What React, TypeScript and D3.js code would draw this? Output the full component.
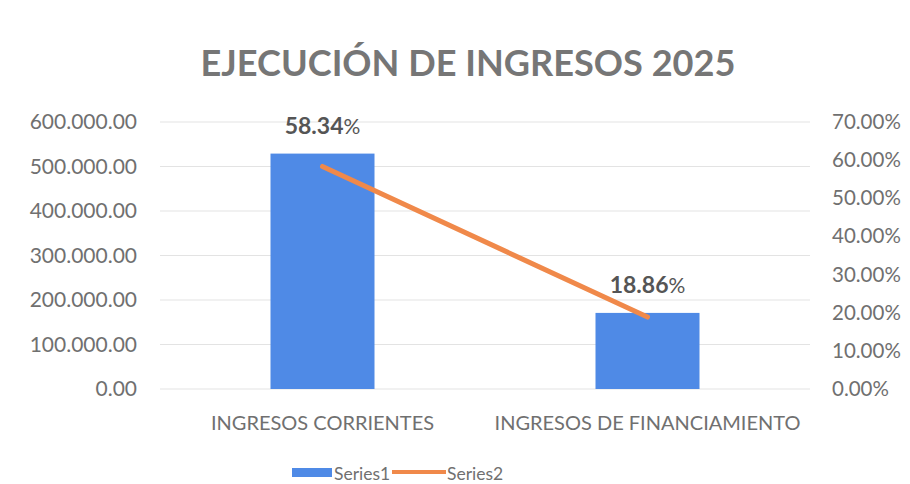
import React from "react";
import * as d3 from "d3";

const categories = ["INGRESOS CORRIENTES", "INGRESOS DE FINANCIAMIENTO"];
const series1 = [529000, 171000];
const series2 = [0.5834, 0.1886];
const leftTicks = [0, 100000, 200000, 300000, 400000, 500000, 600000];
const rightTicks = [0, 0.1, 0.2, 0.3, 0.4, 0.5, 0.6, 0.7];
const title = "EJECUCIÓN DE INGRESOS 2025";
const seriesNames = ["Series1", "Series2"];

const W = 910, H = 484;
const plot = { left: 160, right: 810, top: 122, bottom: 389 };
const FONT = "Lato, 'Open Sans', sans-serif";
const GREY = "#707070";
const BLUE = "#4f8ae6";
const ORANGE = "#f0894a";

const fmtLeft = (v: number) => {
  const s = d3.format(",.2f")(v);
  return s.replace(/,/g, ".");
};
const fmtRight = (v: number) => d3.format(".2%")(v);

export default function App() {
  const x = d3.scaleBand().domain(categories).range([plot.left, plot.right]).paddingInner(0.68).paddingOuter(0.34);
  const yL = d3.scaleLinear().domain([0, 600000]).range([plot.bottom, plot.top]);
  const yR = d3.scaleLinear().domain([0, 0.7]).range([plot.bottom, plot.top]);
  const cx = (c: string) => (x(c) as number) + x.bandwidth() / 2;
  const line = d3.line<number>().x((_, i) => cx(categories[i])).y((d) => yR(d));

  return (
    <svg width={W} height={H} style={{ position: "absolute", left: 0, top: 0, background: "#fff" }}>
      <rect width={W} height={H} fill="#fff" />
      <text x={468} y={76} textAnchor="middle" fontFamily={FONT} fontWeight="bold" fontSize={37} fill="#767676"
        textLength={535} lengthAdjust="spacingAndGlyphs">{title}</text>
      {leftTicks.map((t) => (
        <line key={"g" + t} x1={plot.left} x2={plot.right} y1={yL(t)} y2={yL(t)} stroke="#e3e3e3" strokeWidth={1} />
      ))}
      {leftTicks.map((t) => (
        <text key={"l" + t} x={137} y={yL(t) + 7} textAnchor="end" fontFamily={FONT} fontSize={21} fill={GREY}>{fmtLeft(t)}</text>
      ))}
      {rightTicks.map((t) => (
        <text key={"r" + t} x={832} y={yR(t) + 7} textAnchor="start" fontFamily={FONT} fontSize={20.5} fill={GREY}>{fmtRight(t)}</text>
      ))}
      {categories.map((c, i) => (
        <rect key={"b" + c} x={x(c)} y={yL(series1[i])} width={x.bandwidth()} height={plot.bottom - yL(series1[i])} fill={BLUE} />
      ))}
      <path d={line(series2) || ""} fill="none" stroke={ORANGE} strokeWidth={5} strokeLinecap="round" />
      {categories.map((c, i) => (
        <text key={"d" + c} x={cx(c)} y={yL(series1[i]) - 20} textAnchor="middle" fontFamily={FONT} fontSize={23} fill="#555">
          <tspan fontWeight="bold">{d3.format(".2f")(series2[i] * 100)}</tspan>
          <tspan fontSize={21}>%</tspan>
        </text>
      ))}
      {categories.map((c) => (
        <text key={"c" + c} x={cx(c)} y={430} textAnchor="middle" fontFamily={FONT} fontSize={20} fill={GREY}>{c}</text>
      ))}
      <rect x={292} y={468} width={40} height={9} fill={BLUE} />
      <text x={334} y={480} fontFamily={FONT} fontSize={17.5} fill={GREY}>{seriesNames[0]}</text>
      <line x1={392} x2={446} y1={472} y2={472} stroke={ORANGE} strokeWidth={4} />
      <text x={447} y={480} fontFamily={FONT} fontSize={17.5} fill={GREY}>{seriesNames[1]}</text>
    </svg>
  );
}
